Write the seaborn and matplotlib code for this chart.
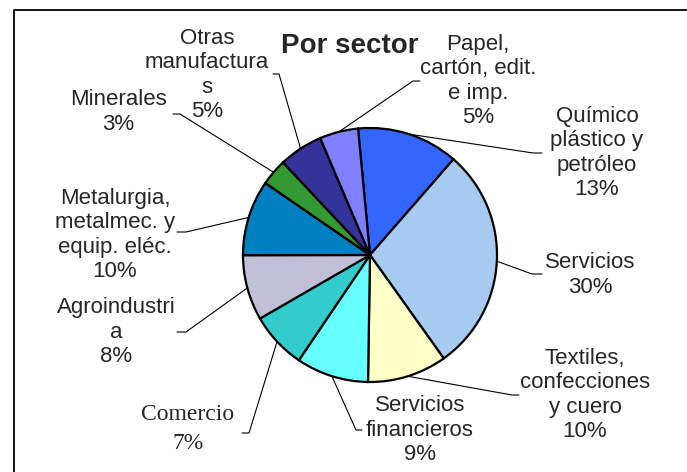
import numpy as np
import seaborn as sns
from matplotlib import pyplot as plt

sns.set_theme(style='white')
plt.rcParams['font.family'] = ['Liberation Sans', 'DejaVu Sans']

# datos
sectores = ['Químico\nplástico y\npetróleo', 'Servicios', 'Textiles,\nconfecciones\ny cuero',
            'Servicios\nfinancieros', 'Comercio', 'Agroindustri\na',
            'Metalurgia,\nmetalmec. y\nequip. eléc.', 'Minerales', 'Otras\nmanufactura\ns',
            'Papel,\ncartón, edit.\ne imp.']
participacion = [12.9, 28.7, 10.1, 9.2, 7.2, 8.3, 9.6, 3.4, 5.6, 4.9]
porcentajes = ['13%', '30%', '10%', '9%', '7%', '8%', '10%', '3%', '5%', '5%']
colores = ['#3366FF', '#A6CAF0', '#FFFFC8', '#66FFFF', '#33CCCC', '#C0C0D8',
           '#0080C0', '#339933', '#333399', '#8080FF']

# posiciones de etiquetas (px): centro del texto, codo y fin del conector
lab_pos = [(597, 153), (590, 275), (585, 395), (420, 430), (188, 429),
           (116, 332), (115, 235), (118, 112), (207, 75), (478, 81)]
codos = [(533, 153, 542), (532, 274, 542), (512, 395, 519), (356, 430, 362),
         (249, 433, 242), (186, 332, 177), (186, 232, 177), (180, 114, 173),
         (279, 74, 273), (413, 81, 420)]

W, H = 687, 472
fig = plt.figure(figsize=(W / 100, H / 100), dpi=100)
ax = fig.add_axes([0, 0, 1, 1])

cx, cy, r = 370, 255, 127
wedges, _ = ax.pie(participacion, colors=colores, startangle=264.6, counterclock=True,
                   center=(cx, cy), radius=r, frame=True,
                   wedgeprops={'edgecolor': 'black', 'linewidth': 1.6})
ax.set_xlim(0, W)
ax.set_ylim(H, 0)
ax.axis('off')

for w, nom, pct, (tx, ty), (ex, ey, sx) in zip(wedges, sectores, porcentajes, lab_pos, codos):
    ang = np.deg2rad((w.theta1 + w.theta2) / 2)
    px, py = cx + r * np.cos(ang), cy + r * np.sin(ang)
    ax.plot([px, ex, sx], [py, ey, ey], color='black', lw=0.8)
    if nom == 'Comercio':
        ax.text(tx, ty, nom + '\n' + pct, ha='center', va='center', fontsize=17,
                family=['Liberation Serif'], linespacing=1.5)
    else:
        ax.text(tx, ty, nom + '\n' + pct, ha='center', va='center', fontsize=16,
                linespacing=1.2)

ax.text(350, 46, 'Por sector', ha='center', va='center', fontsize=20, fontweight='bold')

# marco
ax.plot([14, 14, W + 5], [H + 5, 10, 10], color='black', lw=1.3, clip_on=False)

fig.savefig('out.png', dpi=100)
